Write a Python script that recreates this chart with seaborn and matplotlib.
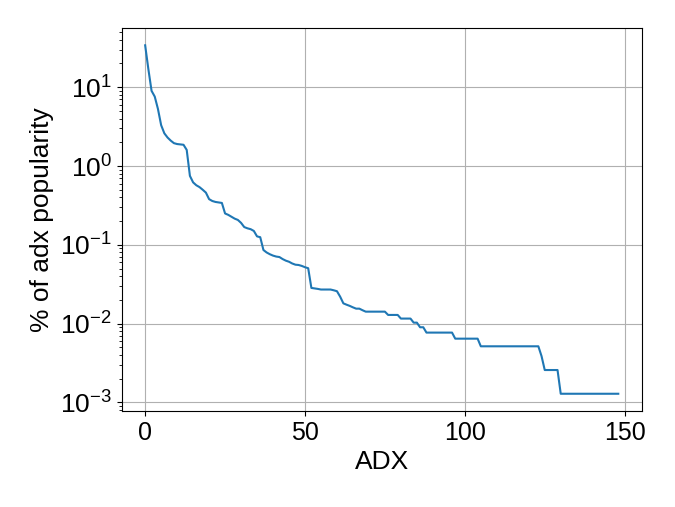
import matplotlib
matplotlib.use("Agg")
import matplotlib.pyplot as plt
from matplotlib.ticker import MultipleLocator
import seaborn as sns
import numpy as np
import pandas as pd

# % of popularity per ADX, sorted descending
pct_head = [34, 17, 9.0, 7.6, 5.3, 3.3, 2.6, 2.3, 2.1, 1.95, 1.9, 1.88, 1.86, 1.6,
            0.75, 0.62, 0.57, 0.54, 0.50, 0.46, 0.38, 0.36, 0.35, 0.345, 0.34,
            0.25, 0.24, 0.227, 0.215, 0.207, 0.19, 0.168, 0.162, 0.158, 0.150,
            0.128, 0.125]
pct_mid = [0.086, 0.080, 0.076, 0.073, 0.071, 0.070, 0.066, 0.063, 0.061, 0.058,
           0.056, 0.0555, 0.054, 0.052, 0.0505,
           0.0284, 0.0280, 0.0276, 0.0271, 0.0271, 0.0271, 0.0271, 0.0265, 0.0258, 0.022,
           0.0181, 0.0174, 0.0168, 0.0161, 0.0155, 0.0155, 0.0148,
           0.0142, 0.0142, 0.0142, 0.0142, 0.0142, 0.0142, 0.0142,
           0.0129, 0.0129, 0.0129, 0.0129,
           0.0116, 0.0116, 0.0116, 0.0116,
           0.0103, 0.0103, 0.0090, 0.0090]
pct_tail = [0.0077, 0.0077, 0.0077, 0.0077, 0.0077, 0.0077, 0.0077, 0.0077, 0.0077,
            0.00645, 0.00645, 0.00645, 0.00645, 0.00645, 0.00645, 0.00645, 0.00645,
            0.00516, 0.00516, 0.00516, 0.00516, 0.00516, 0.00516, 0.00516, 0.00516,
            0.00516, 0.00516, 0.00516, 0.00516, 0.00516, 0.00516, 0.00516, 0.00516,
            0.00516, 0.00516, 0.00516,
            0.00387,
            0.00258, 0.00258, 0.00258, 0.00258, 0.00258,
            0.00129, 0.00129, 0.00129, 0.00129, 0.00129, 0.00129, 0.00129, 0.00129,
            0.00129, 0.00129, 0.00129, 0.00129, 0.00129, 0.00129, 0.00129, 0.00129,
            0.00129, 0.00129, 0.00129]

pct = pct_head + pct_mid + pct_tail
df = pd.DataFrame({"adx": np.arange(len(pct)), "pct": pct})

plt.rcParams["font.family"] = ["Liberation Sans", "DejaVu Sans"]
plt.rcParams["mathtext.fontset"] = "custom"
plt.rcParams["mathtext.rm"] = "Liberation Sans"
plt.rcParams["mathtext.it"] = "Liberation Sans:italic"
plt.rcParams["mathtext.bf"] = "Liberation Sans:bold"

fig, ax = plt.subplots(figsize=(6.75, 5.07), dpi=100)
fig.subplots_adjust(left=0.180, right=0.951, bottom=0.189, top=0.945)

sns.lineplot(data=df, x="adx", y="pct", ax=ax, color="#1f77b4", linewidth=1.5)
ax.set_yscale("log")
ax.xaxis.set_major_locator(MultipleLocator(50))
ax.grid(True, which="major", color="#b0b0b0", linewidth=0.8)
ax.set_axisbelow(True)

ax.set_xlabel("ADX", fontsize=19)
ax.set_ylabel("% of adx popularity", fontsize=19)
ax.tick_params(axis="x", which="major", labelsize=18)
ax.tick_params(axis="y", which="major", labelsize=19)

fig.savefig("out.png", dpi=100)
